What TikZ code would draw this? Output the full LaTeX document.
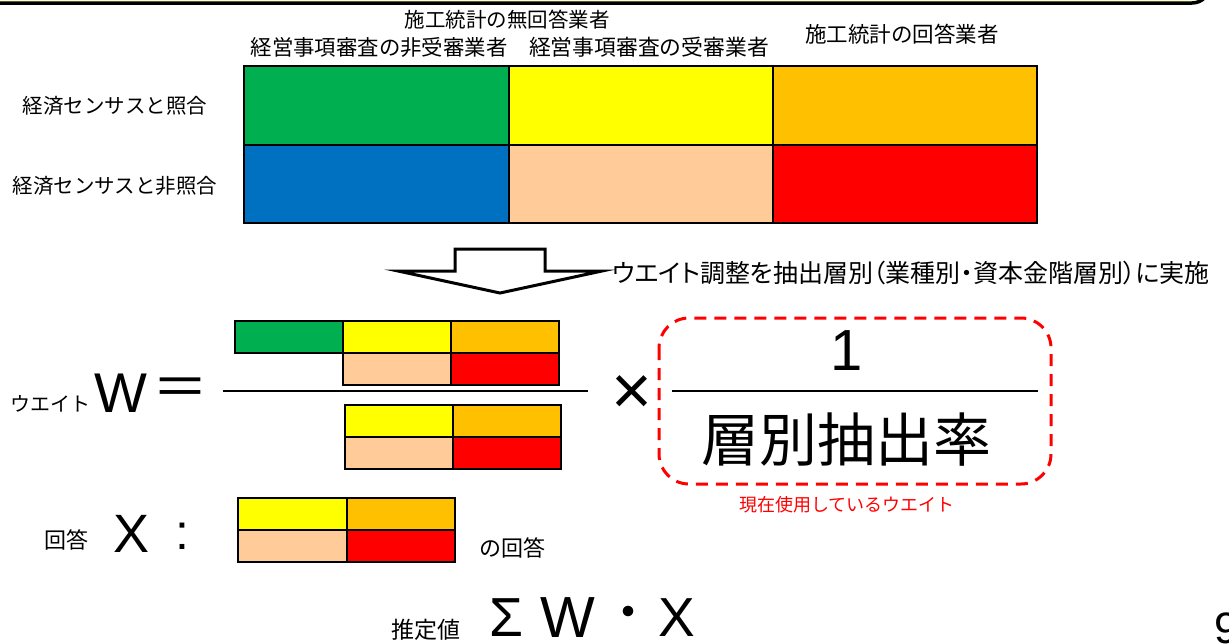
\documentclass[tikz,border=0pt]{standalone}
\usepackage{fontspec}
\setmainfont{Liberation Sans}
\newfontfamily\jp{Noto Sans CJK JP}
\newfontfamily\jpp[RawFeature=+palt]{Noto Sans CJK JP}
\newcommand{\myfs}[1]{\fontsize{#1}{#1}\selectfont}
\definecolor{cgreen}{HTML}{00B050}
\definecolor{cyellow}{HTML}{FFFF00}
\definecolor{corange}{HTML}{FFC000}
\definecolor{cblue}{HTML}{0070C0}
\definecolor{cpeach}{HTML}{FFCC99}
\definecolor{cred}{HTML}{FF0000}
\definecolor{cpale}{HTML}{FFFFCC}
\begin{document}
\begin{tikzpicture}[x=1pt,y=-1pt,
  cellline/.style={draw=black,line width=1.6pt},
  jptext/.style={inner sep=0pt,font=\jp\myfs{20.5}},
  bigl/.style={inner sep=0pt,font=\myfs{56}},
  fracline/.style={line width=2.6pt}]
\useasboundingbox (0,0) rectangle (1229,643);
% top border
\draw[line width=3.5pt,fill=cpale,rounded corners=18pt] (-40,-40) rectangle (1210,3);
% headers
\node[jptext] (h1) at (507,20) {施工統計の無回答業者};
\node[jptext,font=\jp\myfs{21.4}] (h2) at (379,47) {経営事項審査の非受審業者};
\node[jptext,font=\jp\myfs{21.8}] (h3) at (649,47) {経営事項審査の受審業者};
\node[jptext,font=\jp\myfs{21.5}] (h4) at (902,34) {施工統計の回答業者};
\node[jptext] (r1) at (115,106) {経済センサスと照合};
\node[jptext] (r2) at (115,186) {経済センサスと非照合};
% top table
\filldraw[cellline,fill=cgreen]  (244,66) rectangle (509,145);
\filldraw[cellline,fill=cyellow] (509,66) rectangle (773,145);
\filldraw[cellline,fill=corange] (773,66) rectangle (1037,145);
\filldraw[cellline,fill=cblue]   (244,145) rectangle (509,223);
\filldraw[cellline,fill=cpeach]  (509,145) rectangle (773,223);
\filldraw[cellline,fill=cred]    (773,145) rectangle (1037,223);
% block arrow
\draw[line width=3pt,fill=white,line join=miter] (455,249) -- (545,249) -- (545,271) -- (602,271) -- (500,293) -- (398,271) -- (455,271) -- cycle;
\node[inner sep=0pt,anchor=west,font=\jpp\myfs{25}] (lbl) at (612,273) {ウエイト調整を抽出層別（業種別・資本金階層別）に実施};
% weight formula
\node[jptext,font=\jp\myfs{20}] (wk) at (50,404) {ウエイト};
\node[bigl] (W) at (121,393) {W};
\node[jptext,font=\jp\myfs{56}] (eq) at (180,393) {＝};
\filldraw[cellline,fill=cgreen]  (235,321) rectangle (343,353);
\filldraw[cellline,fill=cyellow] (343,321) rectangle (451,353);
\filldraw[cellline,fill=corange] (451,321) rectangle (559,353);
\filldraw[cellline,fill=cpeach]  (343,353) rectangle (451,385);
\filldraw[cellline,fill=cred]    (451,353) rectangle (559,385);
\coordinate (fa) at (223,391);
\coordinate (fb) at (588,391);
\draw[fracline] (fa) -- (fb);
\filldraw[cellline,fill=cyellow] (345,405) rectangle (453,437);
\filldraw[cellline,fill=corange] (453,405) rectangle (561,437);
\filldraw[cellline,fill=cpeach]  (345,437) rectangle (453,469);
\filldraw[cellline,fill=cred]    (453,437) rectangle (561,469);
\node[inner sep=0pt,font=\myfs{70}] (times) at (632,395) {×};
% dashed box
\draw[cred,line width=3pt,dash pattern=on 12pt off 8pt,rounded corners=30pt] (659,318) rectangle (1051,484);
\node[inner sep=0pt,font=\myfs{58}] (one) at (847,351) {1};
\coordinate (ga) at (672,391);
\coordinate (gb) at (1038,391);
\draw[fracline] (ga) -- (gb);
\node[jptext,font=\jp\myfs{58}] (rate) at (846,440) {層別抽出率};
\node[jptext,font=\jp\myfs{18},text=cred] (cap) at (847,505) {現在使用しているウエイト};
% answer X
\node[jptext,font=\jp\myfs{22}] (ans) at (66,540) {回答};
\node[bigl,font=\myfs{54}] (X) at (132,534) {X};
\node[bigl,font=\myfs{50}] (colon) at (182,536) {:};
\filldraw[cellline,fill=cyellow] (238,498) rectangle (347,530);
\filldraw[cellline,fill=corange] (347,498) rectangle (455,530);
\filldraw[cellline,fill=cpeach]  (238,530) rectangle (347,562);
\filldraw[cellline,fill=cred]    (347,530) rectangle (455,562);
\node[jptext,font=\jp\myfs{22}] (ans2) at (512,548) {の回答};
% estimate
\node[jptext,font=\jp\myfs{23}] (est) at (426,630) {推定値};
\node[bigl,font=\myfs{55}] (sig) at (506,618) {Σ};
\node[bigl,font=\myfs{58}] (W2) at (568,618) {W};
\node[jptext,font=\jp\myfs{50}] (dot) at (628,618) {・};
\node[bigl,font=\myfs{55}] (X2) at (677,618) {X};
\node[bigl,font=\myfs{44}] (pg) at (1227,628) {9};
\end{tikzpicture}
\end{document}
